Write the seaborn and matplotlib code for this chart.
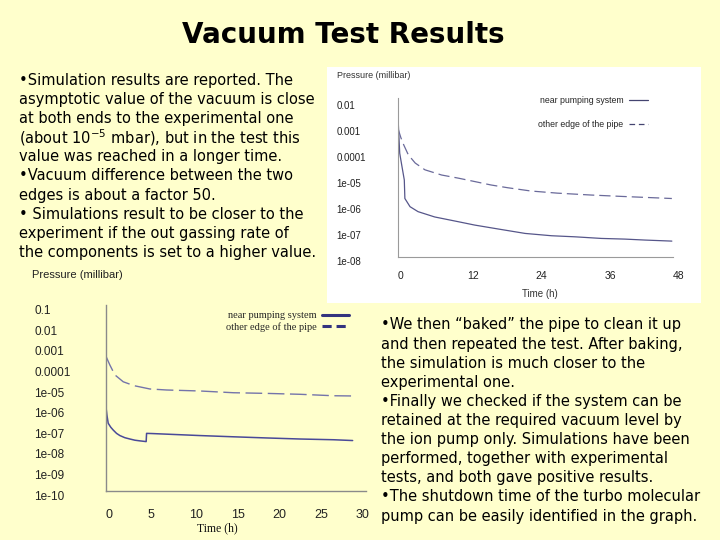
#!/usr/bin/env python
# encoding: utf-8

import numpy as np
import pandas as pd
import matplotlib
matplotlib.use('Agg')
import matplotlib.pyplot as plt
import seaborn as sns
from matplotlib.patches import Rectangle
from matplotlib.ticker import MultipleLocator, FixedLocator, FuncFormatter, NullLocator


# upper chart (before baking), time in hours, pressure in millibar
top_time_near = [0, 0.3, 0.65, 1.1, 1.2, 2.1, 3.5, 6.4, 10.5, 13.4, 17.5, 22.2,
                 26.8, 30.9, 35.5, 39.6, 43.1, 47.8]
top_p_near = [2.5e-3, 1.0e-4, 3.5e-5, 9.3e-6, 1.8e-6, 8.7e-7, 5.6e-7, 3.5e-7,
              2.3e-7, 1.7e-7, 1.2e-7, 8.1e-8, 6.6e-8, 6.0e-8, 5.2e-8, 4.9e-8,
              4.5e-8, 4.1e-8]
top_time_edge = [0, 0.5, 1.0, 1.8, 3.0, 4.7, 7.6, 10.5, 13.4, 16.2, 19.1, 23.2,
                 27.8, 33.7, 39.4, 47.8]
top_p_edge = [8.9e-4, 4.0e-4, 2.1e-4, 8.7e-5, 4.2e-5, 2.3e-5, 1.45e-5, 1.1e-5,
              8.1e-6, 6.0e-6, 4.7e-6, 3.5e-6, 2.9e-6, 2.45e-6, 2.15e-6, 1.8e-6]

# lower chart (after baking, turbo pump stopped near 5 h)
low_time_near = [0, 0.02, 0.15, 0.3, 0.6, 0.9, 1.3, 1.7, 2.3, 2.9, 3.5, 4.1,
                 4.85, 4.9, 5.5, 7.3, 11.3, 15.3, 19.3, 23.3, 27.3, 29.6]
low_p_near = [1.25e-3, 1.26e-6, 4.5e-7, 1.86e-7, 1.2e-7, 8.7e-8, 6.0e-8, 4.7e-8,
              3.7e-8, 3.2e-8, 2.8e-8, 2.6e-8, 2.4e-8, 6.0e-8, 5.9e-8, 5.5e-8,
              4.7e-8, 4.1e-8, 3.6e-8, 3.2e-8, 2.95e-8, 2.7e-8]
low_time_edge = [0, 0.5, 1.1, 2.1, 3.4, 5.3, 7.3, 11.3, 15.3, 19.3, 23.3, 27.3, 29.6]
low_p_edge = [3.5e-4, 1.23e-4, 4.1e-5, 1.9e-5, 1.23e-5, 8.5e-6, 7.6e-6, 6.8e-6,
              5.6e-6, 5.2e-6, 4.7e-6, 4.0e-6, 3.9e-6]

series_labels = ['near pumping system', 'other edge of the pipe']
top_decades = [-8, -7, -6, -5, -4, -3, -2]
low_decades = [-10, -9, -8, -7, -6, -5, -4, -3, -2, -1]
top_xticks = [0, 12, 24, 36, 48]
low_xticks = [0, 5, 10, 15, 20, 25, 30]

title = 'Vacuum Test Results'
text_top = [
    '\u2022Simulation results are reported. The',
    'asymptotic value of the vacuum is close',
    'at both ends to the experimental one',
    '(about 10$^{-5}$ mbar), but in the test this',
    'value was reached in a longer time.',
    '\u2022Vacuum difference between the two',
    'edges is about a factor 50.',
    '\u2022 Simulations result to be closer to the',
    'experiment if the out gassing rate of',
    'the components is set to a higher value.',
]
text_bottom = [
    '\u2022We then \u201cbaked\u201d the pipe to clean it up',
    'and then repeated the test. After baking,',
    'the simulation is much closer to the',
    'experimental one.',
    '\u2022Finally we checked if the system can be',
    'retained at the required vacuum level by',
    'the ion pump only. Simulations have been',
    'performed, together with experimental',
    'tests, and both gave positive results.',
    '\u2022The shutdown time of the turbo molecular',
    'pump can be easily identified in the graph.',
]

W, H = 720, 540
BG = '#FFFFCC'


def fx(px):
    return px / W


def fy(py):
    return 1 - py / H


def decade_label(v, pos):
    # the old chart prints the plain python repr: 0.001, 0.0001, 1e-05 ...
    return str(float('%.0e' % v))


def main():
    sns.set_theme(style='white')
    plt.rcParams['font.family'] = ['DejaVu Sans']

    fig = plt.figure(figsize=(7.2, 5.4), dpi=100, facecolor=BG)

    # white box behind the upper chart
    fig.patches.append(Rectangle((fx(327), fy(303)), 374 / W, 236 / H,
                                 transform=fig.transFigure, facecolor='white',
                                 edgecolor='none', zorder=-1))

    # ---------- upper chart ----------
    ax1 = fig.add_axes([fx(398), fy(257), 275 / W, (257 - 98) / H])
    ax1.set_facecolor('white')
    sns.lineplot(x=top_time_near, y=top_p_near, ax=ax1, color='#56568a',
                 linewidth=0.9, estimator=None, sort=False, legend=False)
    sns.lineplot(x=top_time_edge, y=top_p_edge, ax=ax1, color='#6a6a9a',
                 linewidth=0.9, estimator=None, sort=False, linestyle=(0, (9, 4)),
                 legend=False)
    ax1.set_yscale('log')
    ax1.set_xlim(0, 48)
    ax1.set_ylim(1e-8, 1.35e-2)
    ax1.yaxis.set_major_locator(FixedLocator([10.0 ** d for d in top_decades]))
    ax1.yaxis.set_minor_locator(NullLocator())
    ax1.yaxis.set_major_formatter(FuncFormatter(decade_label))
    ax1.xaxis.set_major_locator(FixedLocator(top_xticks))
    ax1.xaxis.set_minor_locator(MultipleLocator(2.4))
    ax1.set_xlabel('')
    ax1.set_ylabel('')
    for s in ['top', 'right']:
        ax1.spines[s].set_visible(False)
    for s in ['left', 'bottom']:
        ax1.spines[s].set_color('#9a9a9a')
        ax1.spines[s].set_linewidth(0.8)
    ax1.tick_params(axis='y', which='major', direction='out', length=2.5, width=0.8,
                    color='#9a9a9a', labelsize=7, labelcolor='#222222', pad=42)
    ax1.tick_params(axis='x', which='both', direction='out', length=4, width=0.8,
                    color='#9a9a9a', labelsize=7.5, labelcolor='#222222', pad=6)
    ax1.tick_params(axis='y', which='minor', length=0)
    plt.setp(ax1.get_yticklabels(), ha='left', va='top', family='Liberation Sans')
    plt.setp(ax1.get_xticklabels(), ha='left', family='Liberation Sans')
    t_near = plt.Line2D([], [], color='#444470', linewidth=0.9)
    t_edge = plt.Line2D([], [], color='#444470', linewidth=0.9, linestyle=(0, (4.5, 3)))
    leg1 = ax1.legend([t_near, t_edge], series_labels, loc='upper right',
                      bbox_to_anchor=(fx(648), fy(96)),
                      bbox_transform=fig.transFigure, frameon=False, markerfirst=False,
                      handlelength=2.2, handletextpad=0.6, labelspacing=1.75,
                      borderpad=0, borderaxespad=0,
                      prop={'family': ['Liberation Sans Narrow', 'Liberation Sans'],
                            'size': 6.3})
    fig.text(fx(337), fy(75), 'Pressure (millibar)', fontsize=6.5, color='#333333',
             family='Liberation Sans', va='center', ha='left')
    fig.text(fx(540), fy(294), 'Time (h)', fontsize=7, color='#333333',
             family='Liberation Sans', va='center', ha='center')

    # ---------- lower chart ----------
    ax2 = fig.add_axes([fx(105.7), fy(490.7), (366 - 105.7) / W, (490.7 - 305) / H])
    ax2.set_facecolor(BG)
    sns.lineplot(x=low_time_near, y=low_p_near, ax=ax2, color='#4a4a98',
                 linewidth=1.1, estimator=None, sort=False, legend=False)
    sns.lineplot(x=low_time_edge, y=low_p_edge, ax=ax2, color='#7474aa',
                 linewidth=1.0, estimator=None, sort=False, linestyle=(0, (12, 4)),
                 legend=False)
    ax2.set_yscale('log')
    ax2.set_xlim(0, 31.2)
    ax2.set_ylim(1e-10, 0.1)
    ax2.yaxis.set_major_locator(FixedLocator([10.0 ** d for d in low_decades]))
    ax2.yaxis.set_minor_locator(NullLocator())
    ax2.yaxis.set_major_formatter(FuncFormatter(decade_label))
    ax2.xaxis.set_major_locator(FixedLocator(low_xticks))
    ax2.xaxis.set_minor_locator(MultipleLocator(1))
    ax2.set_xlabel('')
    ax2.set_ylabel('')
    for s in ['top', 'right']:
        ax2.spines[s].set_visible(False)
    for s in ['left', 'bottom']:
        ax2.spines[s].set_color('#8a8a8a')
        ax2.spines[s].set_linewidth(1.0)
    ax2.tick_params(axis='y', which='major', direction='out', length=4.5, width=1,
                    color='#8a8a8a', labelsize=8.5, labelcolor='#222222', pad=47)
    ax2.tick_params(axis='x', which='major', direction='out', length=7, width=1,
                    color='#8a8a8a', labelsize=9, labelcolor='#222222', pad=6.5)
    ax2.tick_params(axis='x', which='minor', direction='out', length=3, width=1,
                    color='#8a8a8a')
    plt.setp(ax2.get_yticklabels(), ha='left', va='top', family='Liberation Sans')
    plt.setp(ax2.get_xticklabels(), ha='left', family='Liberation Sans')
    h_near = plt.Line2D([], [], color='#33337f', linewidth=2.2)
    h_edge = plt.Line2D([], [], color='#33337f', linewidth=2.2, linestyle=(0, (3, 1.6)))
    leg2 = ax2.legend([h_near, h_edge], series_labels, loc='upper right',
                      bbox_to_anchor=(fx(349), fy(311)), bbox_transform=fig.transFigure,
                      frameon=False, markerfirst=False, handlelength=2.6,
                      handletextpad=0.5, labelspacing=0.15, borderpad=0, borderaxespad=0,
                      prop={'family': 'Liberation Serif', 'size': 7.5})
    fig.text(fx(32), fy(275), 'Pressure (millibar)', fontsize=8, color='#222222',
             family='Liberation Sans', va='center', ha='left')
    fig.text(fx(217), fy(528), 'Time (h)', fontsize=8.5, color='#111111',
             family='Liberation Serif', va='center', ha='center')

    # ---------- slide text ----------
    fig.text(fx(343), fy(35), title, fontsize=20, fontweight='bold', ha='center',
             va='center', color='black')
    for i, line in enumerate(text_top):
        fig.text(fx(19), fy(80 + i * 19.2), line, fontsize=10.5, ha='left',
                 va='center', color='black')
    for i, line in enumerate(text_bottom):
        fig.text(fx(381), fy(325 + i * 19.1), line, fontsize=10.5, ha='left',
                 va='center', color='black')

    fig.savefig('out.png', dpi=100, facecolor=BG)


if __name__ == '__main__':
    main()
